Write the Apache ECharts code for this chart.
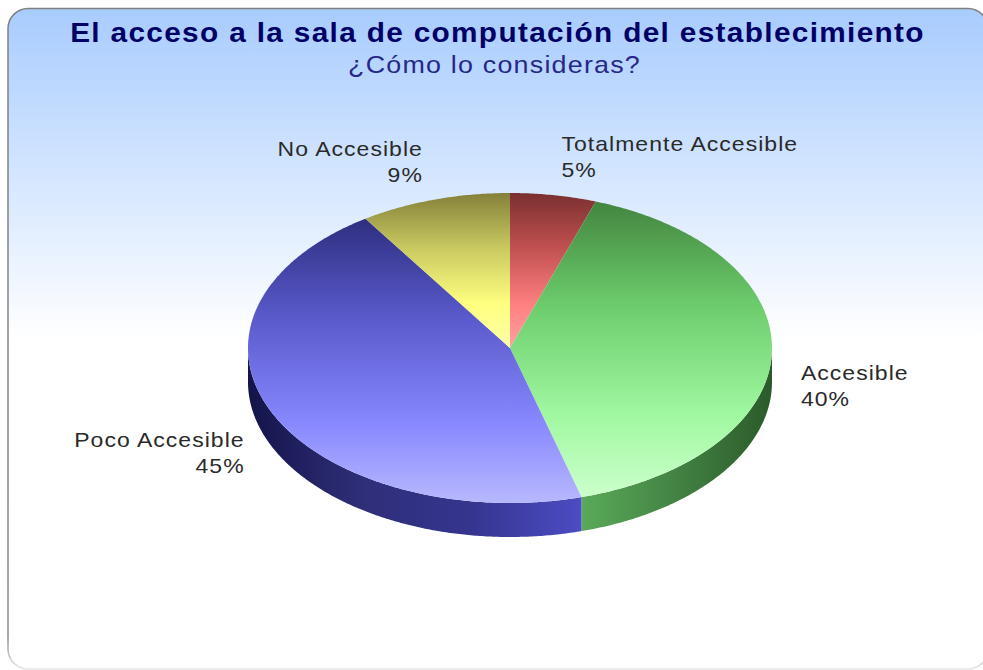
<!DOCTYPE html>
<html>
<head>
<meta charset="utf-8">
<style>
html,body{margin:0;padding:0;background:#fff;overflow:hidden}
#c{width:983px;height:670px}
#c text{letter-spacing:0.045em}
</style>
<script src="https://cdn.jsdelivr.net/npm/echarts@6/dist/echarts.min.js"></script>
</head>
<body>
<div id="c"></div>
<script>
const titleText = 'El acceso a la sala de computación del establecimiento';
const subtitleText = '¿Cómo lo consideras?';
const categories = ['Totalmente Accesible', 'Accesible', 'Poco Accesible', 'No Accesible'];
const shares = [5.3, 40.3, 45.1, 9.3];
const percentLabels = ['5%', '40%', '45%', '9%'];

const topStops = [
  ['#7a2f2f', '#c05050', '#ff8080', '#ffa0a0'],
  ['#43853f', '#6ccc6c', '#a0f8a0', '#ccffcc'],
  ['#2e2e80', '#5a5acc', '#8888ff', '#b8b8ff'],
  ['#85803a', '#c8c860', '#ffff80', '#ffffa8']
];
const sideStops = [
  ['#7a2f2f', '#a04040'],
  ['#5aaa5a', '#2b5a2b'],
  ['#14144a', '#2e2e78', '#35358f', '#4c4cc4'],
  ['#85803a', '#a0a040']
];
const labelNudge = [[3, -1], [-1, 33], [0, 25], [-3, -1]];

const cx = 510, cy = 348, rx = 262, ry = 155, depth = 34;
const total = shares.reduce((a, b) => a + b, 0);

function topGrad(stops) {
  return {
    type: 'linear', x: 0, y: 0, x2: 0, y2: 1,
    colorStops: [
      { offset: 0, color: stops[0] },
      { offset: 0.35, color: stops[1] },
      { offset: 0.72, color: stops[2] },
      { offset: 1, color: stops[3] }
    ]
  };
}
function sideGrad(stops) {
  const n = stops.length - 1;
  return {
    type: 'linear', x: 0, y: 0, x2: 1, y2: 0,
    colorStops: stops.map((c, i) => ({ offset: i / n, color: c }))
  };
}
function pt(a, dy) {
  return [cx + rx * Math.sin(a), cy - ry * Math.cos(a) + (dy || 0)];
}
function arc(a0, a1, dy) {
  const pts = [];
  const n = Math.max(2, Math.ceil((a1 - a0) / (Math.PI / 360)));
  for (let i = 0; i <= n; i++) pts.push(pt(a0 + (a1 - a0) * i / n, dy));
  return pts;
}

function renderSlice(params, api) {
  const i = params.dataIndex;
  const before = shares.slice(0, i).reduce((a, b) => a + b, 0);
  const a0 = before / total * 2 * Math.PI;
  const a1 = (before + api.value(0)) / total * 2 * Math.PI;
  const children = [];
  const s0 = Math.max(a0, Math.PI / 2), s1 = Math.min(a1, 3 * Math.PI / 2);
  if (s1 > s0) {
    const outer = arc(s0, s1, 0).concat(arc(s0, s1, depth).reverse());
    children.push({
      type: 'polygon', shape: { points: outer },
      style: { fill: sideGrad(sideStops[i]) }
    });
  }
  children.push({
    type: 'polygon',
    shape: { points: [[cx, cy]].concat(arc(a0, a1, 0)) },
    style: { fill: topGrad(topStops[i]) }
  });
  const mid = (a0 + a1) / 2;
  children.push({
    type: 'text', z2: 10,
    x: cx + (rx + 30) * Math.sin(mid) + labelNudge[i][0],
    y: cy - (ry + 38) * Math.cos(mid) + labelNudge[i][1],
    scaleX: 1.15,
    style: {
      text: categories[i] + '\n' + percentLabels[i],
      fill: '#2a2a2a',
      font: '20px "Liberation Sans"',
      lineHeight: 26,
      align: Math.sin(mid) >= 0 ? 'left' : 'right',
      verticalAlign: 'middle'
    }
  });
  return { type: 'group', children };
}

const chart = echarts.init(document.getElementById('c'), null, { renderer: 'svg', width: 983, height: 670 });
chart.setOption({
  animation: false,
  graphic: [{
    type: 'rect', z: -10, silent: true,
    shape: { x: 8, y: 8.5, width: 980, height: 660.5, r: 20 },
    style: {
      fill: { type: 'linear', x: 0, y: 0, x2: 0, y2: 1, colorStops: [
        { offset: 0, color: '#a8ccff' },
        { offset: 0.5, color: '#ffffff' }, { offset: 1, color: '#ffffff' } ] },
      stroke: { type: 'linear', x: 0, y: 0, x2: 0, y2: 1, colorStops: [
        { offset: 0, color: '#808080' }, { offset: 0.95, color: '#8a8a8a' },
        { offset: 1, color: '#e8e8e8' } ] },
      lineWidth: 1.5
    }
  }, {
    type: 'text', x: 497.5, y: 33, scaleX: 1.103, silent: true,
    style: { text: titleText, align: 'center', verticalAlign: 'middle', fill: '#000066',
      font: 'bold 27px "Liberation Sans"' }
  }, {
    type: 'text', x: 494.5, y: 65, scaleX: 1.12, silent: true,
    style: { text: subtitleText, align: 'center', verticalAlign: 'middle', fill: '#27278a',
      font: '24px "Liberation Sans"' }
  }],
  series: [{
    type: 'custom',
    coordinateSystem: 'none',
    renderItem: renderSlice,
    data: shares.map((v, i) => ({ name: categories[i], value: [v] }))
  }]
});
</script>
</body>
</html>
